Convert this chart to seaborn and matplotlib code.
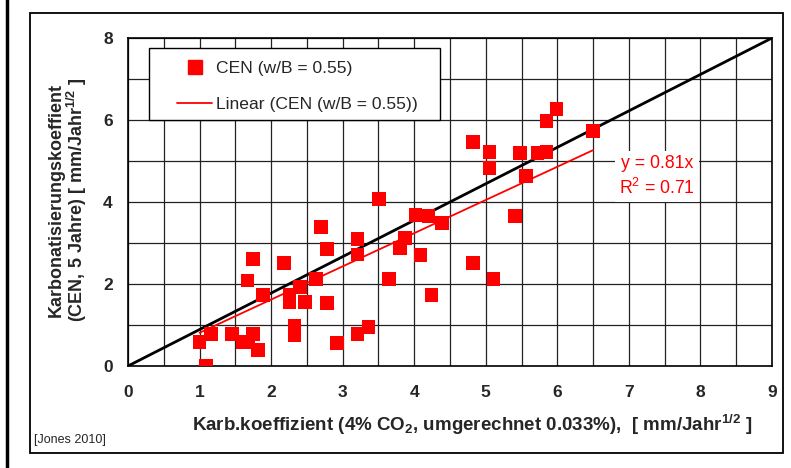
import matplotlib
matplotlib.use("Agg")
import matplotlib.pyplot as plt
import seaborn as sns
import numpy as np
import pandas as pd
from matplotlib.patches import Rectangle
from matplotlib.lines import Line2D

# ---- data ----
x_carb = [1.00, 1.09, 1.16, 1.45, 1.60, 1.68, 1.75, 1.82, 1.67, 1.75,
          1.89, 2.18, 2.26, 2.26, 2.33, 2.33, 2.40, 2.47, 2.63, 2.70,
          2.78, 2.78, 2.92, 3.21, 3.21, 3.21, 3.36, 3.51, 3.65, 3.80,
          3.87, 4.02, 4.20, 4.39, 4.09, 4.24, 4.82, 4.82, 5.05, 5.05,
          5.11, 5.41, 5.48, 5.56, 5.72, 5.85, 5.85, 5.99, 6.50]
y_cen = [0.59, 0.00, 0.78, 0.78, 0.59, 0.59, 0.78, 0.39, 2.08, 2.61,
         1.73, 2.51, 1.73, 1.55, 0.98, 0.76, 1.93, 1.56, 2.12, 3.39,
         2.85, 1.54, 0.56, 3.10, 2.72, 0.78, 0.95, 4.07, 2.12, 2.88,
         3.12, 3.68, 3.66, 3.49, 2.71, 1.73, 2.51, 5.46, 5.22, 4.83,
         2.12, 3.66, 5.20, 4.63, 5.20, 5.22, 5.98, 6.27, 5.73]
fit_slope = 0.81
r_squared = 0.71
ref_x = [0, 9]
ref_y = [0, 8]
x_ticks = [0, 1, 2, 3, 4, 5, 6, 7, 8, 9]
y_ticks = [0, 2, 4, 6, 8]
x_minor = [0.5, 1.5, 2.5, 3.5, 4.5, 5.5, 6.5, 7.5, 8.5]
y_minor = [1, 3, 5, 7]
series_label = "CEN (w/B = 0.55)"
fit_label = "Linear (CEN (w/B = 0.55))"

df = pd.DataFrame({"x": x_carb, "y": y_cen})

sns.set_theme(style="white")
plt.rcParams['font.family'] = ['Liberation Sans', 'DejaVu Sans']
plt.rcParams['mathtext.fontset'] = 'custom'
plt.rcParams['mathtext.rm'] = 'Liberation Sans'
plt.rcParams['mathtext.bf'] = 'Liberation Sans:bold'
plt.rcParams['mathtext.it'] = 'Liberation Sans:italic'

W, H = 791, 468
fig = plt.figure(figsize=(W / 100, H / 100), dpi=100)
fig.patch.set_facecolor('white')
ax = fig.add_axes([128 / W, (H - 366) / H, 644 / W, 328 / H])

ax.set_xlim(0, 9)
ax.set_ylim(0, 8)
ax.set_xticks(x_ticks)
ax.set_yticks(y_ticks)
ax.set_xticks(x_minor, minor=True)
ax.set_yticks(y_minor, minor=True)
ax.grid(True, which='both', color='#222222', linewidth=0.9)
ax.set_axisbelow(True)
ax.tick_params(axis='both', which='major', direction='out', length=3,
               width=1, color='black', labelsize=12.5)
ax.tick_params(axis='y', which='major', pad=8)
ax.tick_params(axis='x', which='major', pad=11)
ax.tick_params(axis='both', which='minor', length=0)
for lab in ax.get_xticklabels() + ax.get_yticklabels():
    lab.set_fontweight('bold')
for sp in ax.spines.values():
    sp.set_color('black')
    sp.set_linewidth(1.2)

# reference line
ax.plot(ref_x, ref_y, color='black', linewidth=2.0, zorder=2.5)

# data
sns.scatterplot(data=df, x="x", y="y", marker='s', color='#FF0000', s=95,
                edgecolor='none', linewidth=0, zorder=3, ax=ax, legend=False)

# fit line through origin
fx = [min(x_carb), max(x_carb)]
fy = [fit_slope * v for v in fx]
ax.plot(fx, fy, color='#FF0000', linewidth=1.3, zorder=3.5)

ax.set_xlabel("")
ax.set_ylabel("")

# annotation
ax.text(7.39, 4.63, f"y = {fit_slope}x\nR$^2$ = {r_squared}", color='#FF0000',
        fontsize=12.7, ha='center', va='center', linespacing=1.35, zorder=5,
        bbox=dict(facecolor='white', edgecolor='none', pad=3))

# legend: box drawn separately, entries placed inside
ax.add_patch(Rectangle((21 / 644, (366 - 120) / 328), 291 / 644, 72 / 328,
                       transform=ax.transAxes, facecolor='white',
                       edgecolor='black', linewidth=1.0, zorder=6))
handles = [Line2D([], [], marker='s', color='#FF0000', linestyle='none', markersize=10),
           Line2D([], [], color='#FF0000', linewidth=1.3)]
leg = ax.legend(handles, [series_label, fit_label], loc='upper left',
                bbox_to_anchor=((177 - 128) / 644, (366 - 61) / 328),
                frameon=False, fontsize=12.6, borderpad=0,
                labelspacing=1.15, handlelength=2.0, handletextpad=0.25,
                borderaxespad=0)
leg.set_zorder(7)

# axis labels
fig.text(472 / W, (H - 425) / H,
         r"Karb.koeffizient (4% CO$\mathbf{_2}$, umgerechnet 0.033%),  [ mm/Jahr$\mathbf{^{1/2}}$ ]",
         fontsize=13.5, fontweight='bold', ha='center', va='center')
fig.text(68 / W, (H - 200) / H,
         "Karbonatisierungskoeffient\n(CEN, 5 Jahre) [ mm/Jahr$\\mathbf{^{1/2}}$ ]",
         fontsize=13, fontweight='bold', ha='center', va='center', rotation=90,
         multialignment='center', linespacing=1.0)

# source
fig.text(34 / W, (H - 440) / H, "[Jones 2010]", fontsize=9, ha='left', va='center')

# outer frame
fig.add_artist(Rectangle((30 / W, (H - 453) / H), (783 - 30) / W, (453 - 13) / H,
                         transform=fig.transFigure, fill=False, edgecolor='black',
                         linewidth=1.3))
fig.add_artist(Line2D([7 / W, 7 / W], [0, 1], transform=fig.transFigure,
                      color='black', linewidth=2.5))

fig.savefig("out.png", dpi=100)
